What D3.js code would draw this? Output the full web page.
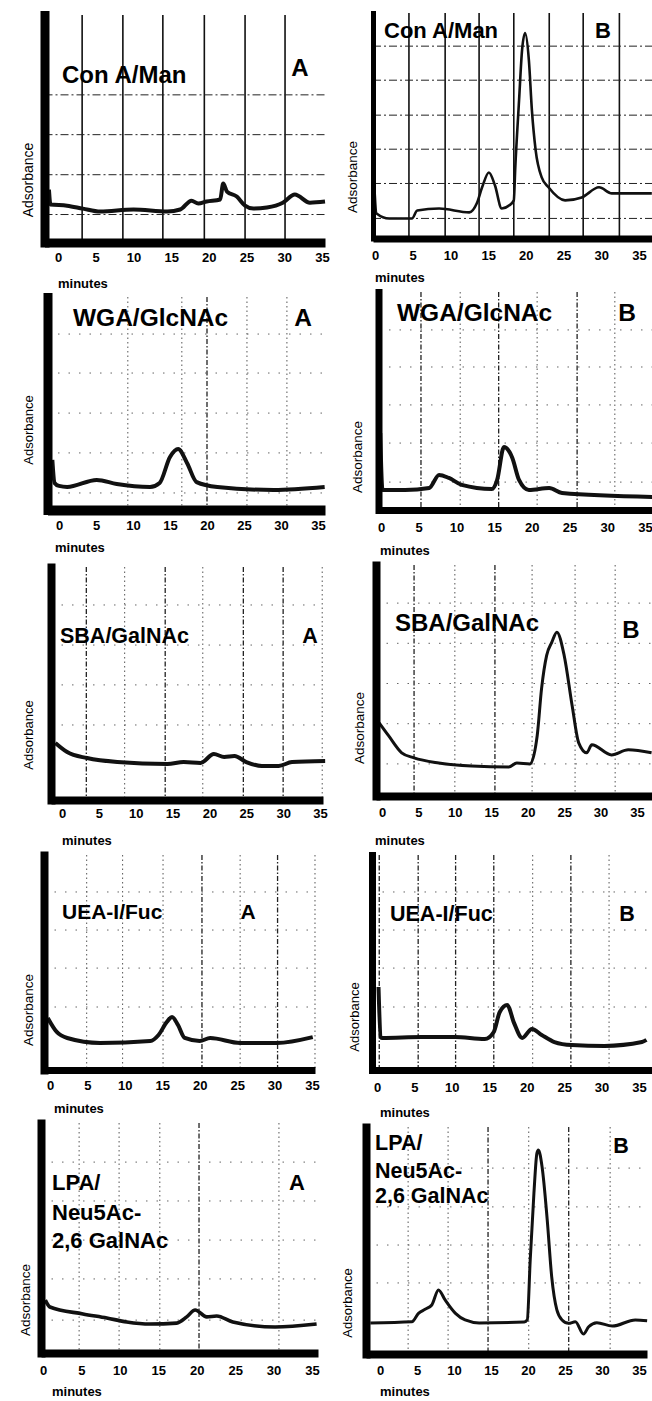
<!DOCTYPE html>
<html>
<head>
<meta charset="utf-8">
<script src="https://cdn.jsdelivr.net/npm/d3@7"></script>
<style>
body { margin: 0; background: #fff; }
svg text { font-family: Arial, "Liberation Sans", sans-serif; fill: #000; }
.tick text { font-weight: bold; }
</style>
</head>
<body>
<svg id="fig" width="652" height="1401"></svg>
<script>
'use strict';
// tick labels shared by every panel (minutes)
var minuteTicks = [0, 5, 10, 15, 20, 25, 30, 35];

// Con A/Man
var conA_A_min = [-1.2, -1.0, 1.2, 3.3, 5.6, 10, 14.5, 16.2, 17.7, 18.6, 19.7, 21.5, 21.9, 22.4, 23.7, 24.8, 25.9, 27.7, 29.8, 31.4, 33.4, 35.4];
var conA_A_abs = [23.2, 16.7, 16.2, 14.9, 13.6, 14.5, 13.6, 14.5, 18.4, 17.1, 18.0, 18.9, 25.9, 22.4, 20.2, 16.2, 14.9, 15.4, 17.5, 21.1, 17.5, 18.0];
var conA_B_min = [-0.1, 0.2, 1.9, 4.9, 5.6, 8.5, 12.5, 13.5, 14.2, 15.1, 15.9, 16.8, 17.8, 18.4, 18.6, 19.1, 19.5, 19.9, 20.4, 20.8, 21.3, 22.1, 23.0, 25.2, 27.4, 29.7, 31.4, 36.7];
var conA_B_abs = [23.6, 11.1, 8.9, 8.9, 12.4, 13.3, 11.6, 15.6, 22.7, 29.3, 23.6, 13.3, 14.7, 16.9, 31.6, 61.3, 83.6, 91.1, 79.1, 56.9, 39.1, 27.1, 22.7, 16.9, 18.2, 22.7, 20.0, 20.0];

// WGA/GlcNAc
var wga_A_min = [-0.9, -0.6, 0, 1.1, 5.1, 7.8, 12.3, 13.6, 15.0, 16.1, 17.3, 18.6, 21.4, 29, 35.9];
var wga_A_abs = [23.5, 12.7, 11.3, 10.8, 14.1, 12.2, 10.8, 12.7, 24.9, 28.6, 22.1, 13.1, 10.8, 9.4, 10.8];
var wga_B_min = [-0.1, 0.2, 3.2, 6.4, 7.7, 9.0, 10.7, 14.7, 15.4, 16.3, 17.4, 18.3, 19.6, 22.3, 24, 36];
var wga_B_abs = [35.3, 9.2, 9.2, 10.1, 16.1, 14.7, 11.5, 9.6, 13.8, 28.9, 24.0, 13.8, 9.2, 10.1, 7.8, 6.0];

// SBA/GalNAc
var sba_A_min = [-0.9, 0.7, 3.4, 7.5, 14.3, 16.5, 18.8, 20.6, 22.0, 23.4, 25, 27.1, 29.4, 31.2, 35.7];
var sba_A_abs = [24.5, 20.6, 18.0, 16.3, 15.5, 16.3, 15.9, 19.7, 18.5, 18.9, 16.3, 14.6, 14.6, 16.3, 16.7];
var sba_B_min = [-0.4, 0.9, 2.7, 4.4, 7.8, 12.3, 17.4, 18.5, 20.3, 21.3, 21.9, 22.6, 23.3, 24.0, 25.0, 26.1, 27.0, 28.1, 28.8, 31.5, 33.8, 37];
var sba_B_abs = [31.7, 26.1, 18.7, 16.5, 14.3, 13.0, 12.6, 14.3, 13.9, 26.1, 46.5, 60.9, 66.5, 70.9, 60.9, 39.1, 23.0, 18.7, 22.2, 17.8, 20.0, 18.7];

// UEA-I/Fuc
var uea_A_min = [-0.3, 0.9, 2.3, 6.7, 13.4, 14.5, 15.6, 16.3, 17.1, 18.0, 20, 21.4, 25.4, 30.3, 35.1];
var uea_A_abs = [24.2, 17.7, 14.9, 12.6, 13.5, 16.3, 22.3, 24.7, 20.9, 14.9, 13.5, 14.9, 12.6, 12.6, 15.3];
var uea_B_min = [0.2, 0.5, 0.7, 6.0, 10.4, 14.4, 15.6, 16.4, 17.4, 18.3, 19.4, 20.7, 22, 23.7, 26, 30.4, 35.4, 36];
var uea_B_abs = [38.6, 15.3, 14.9, 15.3, 15.3, 14.4, 17.7, 27.0, 30.2, 21.9, 14.9, 19.1, 16.3, 13.0, 11.6, 11.2, 13.0, 14.0];

// LPA/Neu5Ac-2,6 GalNAc
var lpa_A_min = [0.3, 0.9, 5.2, 8.3, 10.9, 13.9, 17.4, 18.7, 19.8, 21.3, 22.6, 24.7, 30.2, 35.6];
var lpa_A_abs = [23.0, 20.0, 17.0, 15.2, 13.5, 12.6, 13.0, 15.7, 18.7, 15.7, 16.1, 13.5, 11.3, 12.6];
var lpa_B_min = [-1.3, 4.3, 5.2, 6.1, 7.0, 7.9, 8.8, 10.2, 11.5, 13.4, 19.5, 19.9, 20.3, 20.8, 21.2, 21.4, 21.9, 22.6, 23.2, 23.9, 24.6, 25.5, 26.4, 27.5, 28.2, 29.3, 31.4, 34.5, 36.1];
var lpa_B_abs = [13.7, 14.2, 17.9, 19.7, 21.6, 28.2, 23.8, 17.9, 15.0, 13.7, 14.1, 15.0, 41.4, 70.8, 88.4, 89.9, 82.5, 59.0, 34.1, 19.4, 15.0, 13.5, 14.2, 8.8, 12.0, 13.8, 12.3, 15.0, 14.7];

// chart-paper grid lines (minutes / absorbance units)
var conA_A_gridMin = [3.2, 8.6, 13.9, 19.4, 24.8, 30.1];
var conA_A_gridAbs = [12.3, 29.8, 47.4, 64.9];
var conA_B_gridMin = [4.5, 9.3, 13.8, 18.4, 23.1, 27.6, 32.4];
var conA_B_gridAbs = [8.9, 24.4, 39.6, 54.7, 70.2, 85.3];
var wga_A_gridMin = [9.3, 16.6, 20.0, 25.4, 30.8];
var wga_A_gridAbs = [8.0, 26.8, 45.5, 64.3, 82.6];
var wga_B_gridMin = [5.3, 10.5, 15.6, 20.7, 26.0, 31.0];
var wga_B_gridAbs = [12.8, 30.7, 48.2, 65.6, 82.6];
var sba_A_gridMin = [3.3, 8.5, 14.0, 19.1, 24.6, 30.0, 35.3];
var sba_A_gridAbs = [32.2, 49.4, 66.5, 83.7];
var sba_B_gridMin = [4.4, 10.0, 15.5, 20.6, 26.5, 32.0];
var sba_B_gridAbs = [13.9, 31.3, 48.7, 66.1, 83.5];
var uea_A_gridMin = [4.9, 9.7, 15.1, 20.3, 25.4, 30.4, 35.4];
var uea_A_gridAbs = [29.3, 47.4, 65.1, 82.8];
var uea_B_gridMin = [0.3, 5.5, 10.5, 15.6, 20.8, 25.9, 31.0];
var uea_B_gridAbs = [29.3, 47.4, 65.1, 82.8];
var lpa_A_gridMin = [4.7, 9.9, 15.2, 20.3, 30.7];
var lpa_A_gridAbs = [14.3, 32.2, 49.1, 66.1, 83.0];
var lpa_B_gridMin = [3.8, 9.2, 14.6, 20.1, 25.5, 31.1];
var lpa_B_gridAbs = [31.3, 48.0, 64.8, 81.9];

// panel layout (pixels); x0/x35 = where 0 and 35 minutes fall; strong = grid lines drawn darker
var panels = [
  {title: ['Con A/Man'], tag: 'A', t: conA_A_min, v: conA_A_abs, gMin: conA_A_gridMin, gAbs: conA_A_gridAbs, grid: 'solid', strong: [],
   left: 44.5, top: 15, right: 325, bottom: 242.5, x0: 58, x35: 322, barW: 9, barH: 9, tickY: 257, minX: 58, minY: 283,
   ylabX: 28, ylabY: 180, ylabSize: 14, titleX: 62, titleY: [75], titleSize: 24, tagX: 300, tagY: 68, lineW: 4},
  {title: ['Con A/Man'], tag: 'B', t: conA_B_min, v: conA_B_abs, gMin: conA_B_gridMin, gAbs: conA_B_gridAbs, grid: 'solid', strong: [],
   left: 373, top: 13, right: 652, bottom: 238.5, x0: 375, x35: 639, barW: 5, barH: 7, tickY: 255, minX: 375, minY: 277,
   ylabX: 352, ylabY: 177, ylabSize: 13.5, titleX: 384, titleY: [30], titleSize: 22, tagX: 603, tagY: 30, lineW: 2.6},
  {title: ['WGA/GlcNAc'], tag: 'A', t: wga_A_min, v: wga_A_abs, gMin: wga_A_gridMin, gAbs: wga_A_gridAbs, grid: 'dotted', strong: [20.0],
   left: 47.5, top: 297, right: 325, bottom: 510, x0: 59, x35: 318, barW: 9, barH: 10, tickY: 525, minX: 55, minY: 547,
   ylabX: 28, ylabY: 430, ylabSize: 13, titleX: 73, titleY: [317], titleSize: 24.5, tagX: 303, tagY: 317, lineW: 4},
  {title: ['WGA/GlcNAc'], tag: 'B', t: wga_B_min, v: wga_B_abs, gMin: wga_B_gridMin, gAbs: wga_B_gridAbs, grid: 'dotted', strong: [5.3, 15.6, 26.0],
   left: 378.5, top: 292, right: 652, bottom: 510, x0: 381, x35: 645, barW: 7, barH: 7, tickY: 527, minX: 380, minY: 550,
   ylabX: 357, ylabY: 457, ylabSize: 13.5, titleX: 397, titleY: [312], titleSize: 24.5, tagX: 627, tagY: 312, lineW: 4},
  {title: ['SBA/GalNAc'], tag: 'A', t: sba_A_min, v: sba_A_abs, gMin: sba_A_gridMin, gAbs: sba_A_gridAbs, grid: 'dotted', strong: [3.3, 14.0, 24.6, 30.0],
   left: 51, top: 567, right: 323, bottom: 800, x0: 62, x35: 320, barW: 8, barH: 8, tickY: 813, minX: 62, minY: 840,
   ylabX: 28, ylabY: 735, ylabSize: 13, titleX: 60, titleY: [635], titleSize: 21.5, tagX: 310, tagY: 635, lineW: 4},
  {title: ['SBA/GalNAc'], tag: 'B', t: sba_B_min, v: sba_B_abs, gMin: sba_B_gridMin, gAbs: sba_B_gridAbs, grid: 'dotted', strong: [4.4, 15.5],
   left: 376, top: 565, right: 652, bottom: 796, x0: 382, x35: 637, barW: 8, barH: 8, tickY: 812, minX: 375, minY: 840,
   ylabX: 359, ylabY: 728, ylabSize: 13.5, titleX: 395, titleY: [623], titleSize: 24, tagX: 631, tagY: 630, lineW: 3},
  {title: ['UEA-I/Fuc'], tag: 'A', t: uea_A_min, v: uea_A_abs, gMin: uea_A_gridMin, gAbs: uea_A_gridAbs, grid: 'dotted', strong: [20.3, 30.4],
   left: 44, top: 855, right: 315, bottom: 1070, x0: 50, x35: 312, barW: 8, barH: 7, tickY: 1085, minX: 54, minY: 1108,
   ylabX: 28, ylabY: 1010, ylabSize: 13.5, titleX: 62, titleY: [912], titleSize: 21, tagX: 248, tagY: 912, lineW: 4},
  {title: ['UEA-I/Fuc'], tag: 'B', t: uea_B_min, v: uea_B_abs, gMin: uea_B_gridMin, gAbs: uea_B_gridAbs, grid: 'dotted', strong: [0.3, 5.5, 10.5, 15.6, 25.9],
   left: 372, top: 855, right: 652, bottom: 1070, x0: 377, x35: 639, barW: 7, barH: 7, tickY: 1087, minX: 380, minY: 1112,
   ylabX: 354, ylabY: 1017, ylabSize: 13, titleX: 390, titleY: [913], titleSize: 21.5, tagX: 627, tagY: 913, lineW: 4},
  {title: ['LPA/', 'Neu5Ac-', '2,6 GalNAc'], tag: 'A', t: lpa_A_min, v: lpa_A_abs, gMin: lpa_A_gridMin, gAbs: lpa_A_gridAbs, grid: 'dotted', strong: [20.3],
   left: 41, top: 1123, right: 318, bottom: 1353, x0: 43, x35: 312, barW: 8, barH: 8, tickY: 1370, minX: 52, minY: 1391,
   ylabX: 25, ylabY: 1300, ylabSize: 13.5, titleX: 52, titleY: [1182, 1212, 1240], titleSize: 22, tagX: 297, tagY: 1182, lineW: 3.6},
  {title: ['LPA/', 'Neu5Ac-', '2,6 GalNAc'], tag: 'B', t: lpa_B_min, v: lpa_B_abs, gMin: lpa_B_gridMin, gAbs: lpa_B_gridAbs, grid: 'dotted', strong: [14.6, 25.5],
   left: 366, top: 1127, right: 647, bottom: 1354, x0: 380, x35: 639, barW: 8, barH: 8, tickY: 1370, minX: 380, minY: 1391,
   ylabX: 347, ylabY: 1303, ylabSize: 13, titleX: 375, titleY: [1142, 1170, 1195], titleSize: 21.5, tagX: 621, tagY: 1145, lineW: 3}
];

var svg = d3.select('#fig');

panels.forEach(function(p) {
  var g = svg.append('g');

  // scales: place 0 and 35 min where the paper has them, then stretch to the axis ends
  var x = d3.scaleLinear().domain([0, 35]).range([p.x0, p.x35]);
  x.domain([x.invert(p.left), x.invert(p.right)]).range([p.left, p.right]);
  var y = d3.scaleLinear().domain([0, 100]).range([p.bottom, p.top]);

  var solid = p.grid === 'solid';

  // vertical grid
  g.selectAll('.vgrid').data(p.gMin).enter().append('line')
      .attr('x1', function(d) { return x(d); })
      .attr('x2', function(d) { return x(d); })
      .attr('y1', p.top)
      .attr('y2', p.bottom)
      .attr('stroke', function(d) { return solid ? '#111' : (p.strong.indexOf(d) >= 0 ? '#222' : '#555'); })
      .attr('stroke-width', function(d) { return solid ? 1.6 : (p.strong.indexOf(d) >= 0 ? 1.3 : 1); })
      .attr('stroke-dasharray', function(d) {
        if (solid) return null;
        return p.strong.indexOf(d) >= 0 ? '5,2,1.5,2' : '1.5,3';
      });

  // horizontal grid
  g.selectAll('.hgrid').data(p.gAbs).enter().append('line')
      .attr('x1', p.left)
      .attr('x2', p.right)
      .attr('y1', function(d) { return y(d); })
      .attr('y2', function(d) { return y(d); })
      .attr('stroke', solid ? '#222' : '#666')
      .attr('stroke-width', 1)
      .attr('stroke-dasharray', solid ? '8,3,2,3' : '1.5,9');

  // chromatogram trace
  var line = d3.line()
      .x(function(d) { return x(d[0]); })
      .y(function(d) { return y(d[1]); })
      .curve(d3.curveMonotoneX);
  g.append('path')
      .datum(d3.zip(p.t, p.v))
      .attr('d', line)
      .attr('fill', 'none')
      .attr('stroke', '#111')
      .attr('stroke-width', p.lineW)
      .attr('stroke-linejoin', 'round');

  // x axis: heavy bar with bold minute labels
  var xa = g.append('g')
      .attr('transform', 'translate(0,' + p.bottom + ')')
      .call(d3.axisBottom(x).tickValues(minuteTicks).tickSize(0).tickSizeOuter(0));
  xa.attr('font-family', null).attr('font-size', null);
  xa.select('.domain').attr('stroke', '#000').attr('stroke-width', p.barH);
  xa.selectAll('text')
      .attr('y', p.tickY - p.bottom)
      .attr('dy', '0.35em')
      .attr('fill', '#000')
      .style('font-size', '13px')
      .style('font-weight', '700');

  // y axis: heavy bar, no ticks
  var ya = g.append('g')
      .attr('transform', 'translate(' + p.left + ',0)')
      .call(d3.axisLeft(y).tickValues([]).tickSizeOuter(0));
  ya.select('.domain').attr('stroke', '#000').attr('stroke-width', p.barW).attr('stroke-linecap', 'square');

  // axis labels
  g.append('text')
      .attr('x', p.minX)
      .attr('y', p.minY)
      .attr('dy', '0.35em')
      .style('font-size', '13px')
      .style('font-weight', '700')
      .text('minutes');

  g.append('text')
      .attr('transform', 'translate(' + p.ylabX + ',' + p.ylabY + ') rotate(-90)')
      .attr('dy', '0.35em')
      .style('text-anchor', 'middle')
      .style('font-size', p.ylabSize + 'px')
      .text('Adsorbance');

  // lectin/sugar title and A/B tag
  p.title.forEach(function(s, i) {
    g.append('text')
        .attr('x', p.titleX)
        .attr('y', p.titleY[i])
        .attr('dy', '0.35em')
        .style('font-size', p.titleSize + 'px')
        .style('font-weight', '700')
        .text(s);
  });
  g.append('text')
      .attr('x', p.tagX)
      .attr('y', p.tagY)
      .attr('dy', '0.35em')
      .style('text-anchor', 'middle')
      .style('font-size', p.titleSize + 'px')
      .style('font-weight', '700')
      .text(p.tag);
});
</script>
</body>
</html>
